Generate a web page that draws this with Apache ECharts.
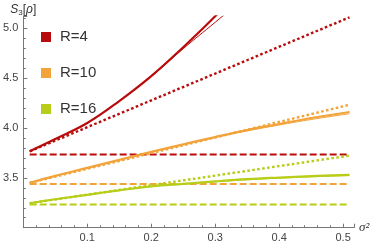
<!DOCTYPE html>
<html>
<head>
<meta charset="utf-8">
<script src="https://cdn.jsdelivr.net/npm/echarts@6/dist/echarts.min.js"></script>
<style>html,body{margin:0;padding:0;background:#fff}#c{width:374px;height:246px}</style>
</head>
<body>
<div id="c"></div>
<script>
// ---- data ----
const sigma2 = [0.01, 0.05, 0.1, 0.15, 0.2, 0.25, 0.3, 0.35, 0.4, 0.45, 0.51];
const ends = [0.01, 0.51];
const seriesNames = ['R=4', 'R=10', 'R=16'];

const r4Thick = [3.766, 3.89, 4.05, 4.27, 4.52, 4.81, 5.12, 5.46, 5.82, 6.2, 6.6];
const r4Thin  = [3.766, 3.89, 4.05, 4.27, 4.515, 4.795, 5.06, 5.33, 5.62, 5.93, 6.3];
const r4Dotted = [3.766, 5.11];
const r4Dashed = [3.735, 3.735];

const r10Thick = [3.45, 3.52, 3.60, 3.68, 3.76, 3.835, 3.91, 3.98, 4.04, 4.10, 4.16];
const r10Thin  = [3.45, 3.52, 3.60, 3.68, 3.76, 3.833, 3.905, 3.97, 4.03, 4.085, 4.143];
const r10Dotted = [3.45, 4.233];
const r10Dashed = [3.437, 3.437];

const r16Thick = [3.245, 3.285, 3.33, 3.375, 3.415, 3.44, 3.465, 3.487, 3.503, 3.517, 3.53];
const r16Thin  = [3.245, 3.285, 3.33, 3.375, 3.413, 3.437, 3.46, 3.48, 3.497, 3.51, 3.523];
const r16Dotted = [3.245, 3.723];
const r16Dashed = [3.232, 3.232];

const colors = ['#B80C0C', '#F2A33A', '#B7CD18'];

// ---- build ----
function pairs(xs, ys) { return xs.map((x, i) => [x, ys[i]]); }
function group(name, color, thick, thin, dotted, dashed) {
  return [
    { name: name + ' const', type: 'line', data: pairs(ends, dashed), symbol: 'none', silent: true,
      lineStyle: { color: color, width: 2, type: [7, 3] }, itemStyle: { color: color } },
    { name: name + ' lin', type: 'line', data: pairs(ends, dotted), symbol: 'none', silent: true,
      lineStyle: { color: color, width: 2.4, type: [2.6, 2.4] }, itemStyle: { color: color } },
    { name: name + ' thin', type: 'line', data: pairs(sigma2, thin), symbol: 'none', silent: true,
      smooth: 0.4,
      lineStyle: { color: color, width: 1 }, itemStyle: { color: color } },
    { name: name, type: 'line', data: pairs(sigma2, thick), symbol: 'none', silent: true,
      smooth: 0.4,
      lineStyle: { color: color, width: 2.2 }, itemStyle: { color: color } }
  ];
}

const series = [].concat(
  group(seriesNames[0], colors[0], r4Thick, r4Thin, r4Dotted, r4Dashed),
  group(seriesNames[1], colors[1], r10Thick, r10Thin, r10Dotted, r10Dashed),
  group(seriesNames[2], colors[2], r16Thick, r16Thin, r16Dotted, r16Dashed)
);

const axisColor = '#777';
const labelColor = '#444';
const font = '"Liberation Sans", Arial, sans-serif';

const chart = echarts.init(document.getElementById('c'), null, { renderer: 'canvas' });
chart.setOption({
  animation: false,
  backgroundColor: '#fff',
  grid: { left: 20, right: 20, top: 16.3, bottom: 18.3, containLabel: false },
  legend: {
    data: seriesNames.map(n => ({ name: n, icon: 'rect' })),
    orient: 'vertical', left: 36, top: 23.5,
    itemWidth: 10, itemHeight: 10, itemGap: 19,
    textStyle: { fontSize: 15, color: '#333', fontFamily: font, lineHeight: 17, padding: [0, 0, 0, 4] },
    selectedMode: false
  },
  xAxis: {
    type: 'value', min: 0, max: 0.517, interval: 0.1,
    name: 'σ²', nameLocation: 'end', nameGap: 5,
    nameTextStyle: { fontSize: 13, color: '#333', fontFamily: 'Liberation Serif, serif', fontStyle: 'italic', verticalAlign: 'middle', padding: [0, 0, 4, 0] },
    axisLine: { onZero: false, lineStyle: { color: axisColor, width: 1 } },
    axisTick: { inside: true, length: 4, lineStyle: { color: axisColor } },
    minorTick: { show: true, splitNumber: 5, length: 2.5, lineStyle: { color: axisColor } },
    splitLine: { show: false },
    axisLabel: { margin: 5, fontSize: 11, color: labelColor, fontFamily: font,
      formatter: v => (v > 0.05 && v < 0.515) ? v.toFixed(1) : '' }
  },
  yAxis: {
    type: 'value', min: 3.0, max: 5.12, interval: 0.5,
    name: '{i|S}{s|3}[{i|ρ}]', nameLocation: 'end', nameGap: 0,
    nameTextStyle: {
      color: '#333', fontFamily: font, fontSize: 12, align: 'center',
      rich: {
        i: { fontStyle: 'italic', fontSize: 12, color: '#333', fontFamily: font },
        s: { fontSize: 8, color: '#333', fontFamily: font, verticalAlign: 'bottom', padding: [5, 0, 0, 0] }
      }
    },
    axisLine: { onZero: false, lineStyle: { color: axisColor, width: 1 } },
    axisTick: { inside: true, length: 4, lineStyle: { color: axisColor } },
    minorTick: { show: true, splitNumber: 5, length: 2.5, lineStyle: { color: axisColor } },
    splitLine: { show: false },
    axisLabel: { margin: 5, fontSize: 11, color: labelColor, fontFamily: font,
      formatter: v => (v > 3.2 && v < 5.05) ? v.toFixed(1) : '' }
  },
  series: series
});
</script>
</body>
</html>
